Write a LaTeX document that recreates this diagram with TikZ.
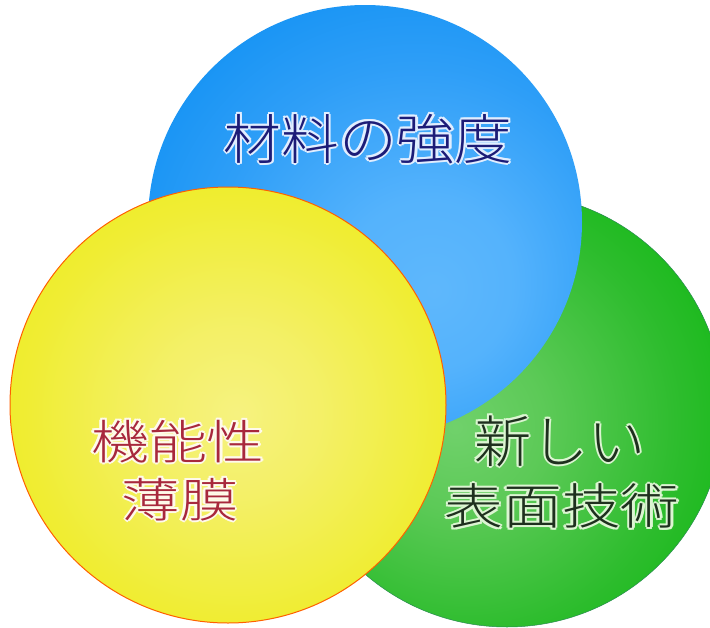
\documentclass[tikz,border=0pt]{standalone}
\usepackage{fontspec}
\usepackage{graphicx}
\IfFontExistsTF{Noto Sans CJK JP Light}{\newfontfamily\cjk{Noto Sans CJK JP Light}}{\newfontfamily\cjk{Noto Sans CJK JP}}
\definecolor{navytxt}{RGB}{28,28,120}
\definecolor{redtxt}{RGB}{168,40,60}
\definecolor{greentxt}{RGB}{30,48,30}
\definecolor{haloblue}{RGB}{225,238,255}
\definecolor{haloyellow}{RGB}{255,250,235}
\definecolor{halogreen}{RGB}{220,245,210}
\definecolor{rimorange}{RGB}{255,96,0}
\definecolor{rimgreen}{RGB}{40,140,80}
\pgfdeclareradialshading{blueball}{\pgfpoint{8bp}{-8bp}}{rgb(0bp)=(0.37,0.72,0.99); rgb(10bp)=(0.33,0.70,0.99); rgb(24bp)=(0.18,0.62,0.97); rgb(35bp)=(0.08,0.575,0.955); rgb(100bp)=(0.07,0.56,0.95)}
\pgfdeclareradialshading{yellowball}{\pgfpoint{1bp}{-1bp}}{rgb(0bp)=(0.965,0.95,0.5); rgb(10bp)=(0.955,0.94,0.4); rgb(24bp)=(0.94,0.93,0.2); rgb(35bp)=(0.93,0.92,0.1); rgb(100bp)=(0.93,0.92,0.1)}
\pgfdeclareradialshading{greenball}{\pgfpoint{-6bp}{-2bp}}{rgb(0bp)=(0.44,0.82,0.42); rgb(10bp)=(0.36,0.79,0.34); rgb(24bp)=(0.18,0.74,0.18); rgb(35bp)=(0.06,0.72,0.07); rgb(100bp)=(0.05,0.71,0.06)}
\newcommand\halocopy[3]{\rlap{\hspace*{#1}\raisebox{#2}{#3}}}
\newcommand\glowtext[2]{\leavevmode{\color{#1}%
\halocopy{2pt}{0pt}{#2}\halocopy{-2pt}{0pt}{#2}\halocopy{0pt}{2pt}{#2}\halocopy{0pt}{-2pt}{#2}%
\halocopy{1.4pt}{1.4pt}{#2}\halocopy{-1.4pt}{1.4pt}{#2}\halocopy{1.4pt}{-1.4pt}{#2}\halocopy{-1.4pt}{-1.4pt}{#2}}#2}
\tikzset{
  ball/.style={circle, inner sep=0pt, minimum size=434pt},
  lbl/.style={inner sep=0pt, anchor=center},
}
\begin{document}
\begin{tikzpicture}[x=1pt,y=-1pt]
\fill[white] (0,0) rectangle (710,627);
\useasboundingbox (0,0) rectangle (710,627);
\begin{scope}
\clip (0,0) rectangle (710,627);
\node[ball, shade, shading=greenball, draw=rimgreen, line width=0.5pt] (green) at (507,410) {};
\node[ball, shade, shading=blueball] (blue) at (365,222) {};
\node[ball, shade, shading=yellowball, draw=rimorange, line width=1pt, minimum size=436pt] (yellow) at (228,405) {};
\end{scope}
\node[lbl, text=navytxt, font=\cjk\fontsize{54}{54}\selectfont] (t1) at (368,139) {\scalebox{1.07}[1]{\glowtext{haloblue}{材料の強度}}};
\node[lbl, text=redtxt, font=\cjk\fontsize{47}{47}\selectfont] (t2a) at (178,441.5) {\scalebox{1.23}[1]{\glowtext{haloyellow}{機能性}}};
\node[lbl, text=redtxt, font=\cjk\fontsize{47}{47}\selectfont] (t2b) at (180,499.5) {\scalebox{1.24}[1]{\glowtext{haloyellow}{薄膜}}};
\node[lbl, text=greentxt, font=\cjk\fontsize{56}{56}\selectfont] (t3a) at (560,441) {\scalebox{1.02}[1]{\glowtext{halogreen}{新しい}}};
\node[lbl, text=greentxt, font=\cjk\fontsize{49}{49}\selectfont] (t3b) at (562,506) {\scalebox{1.2}[1]{\glowtext{halogreen}{表面技術}}};
\end{tikzpicture}
\end{document}
